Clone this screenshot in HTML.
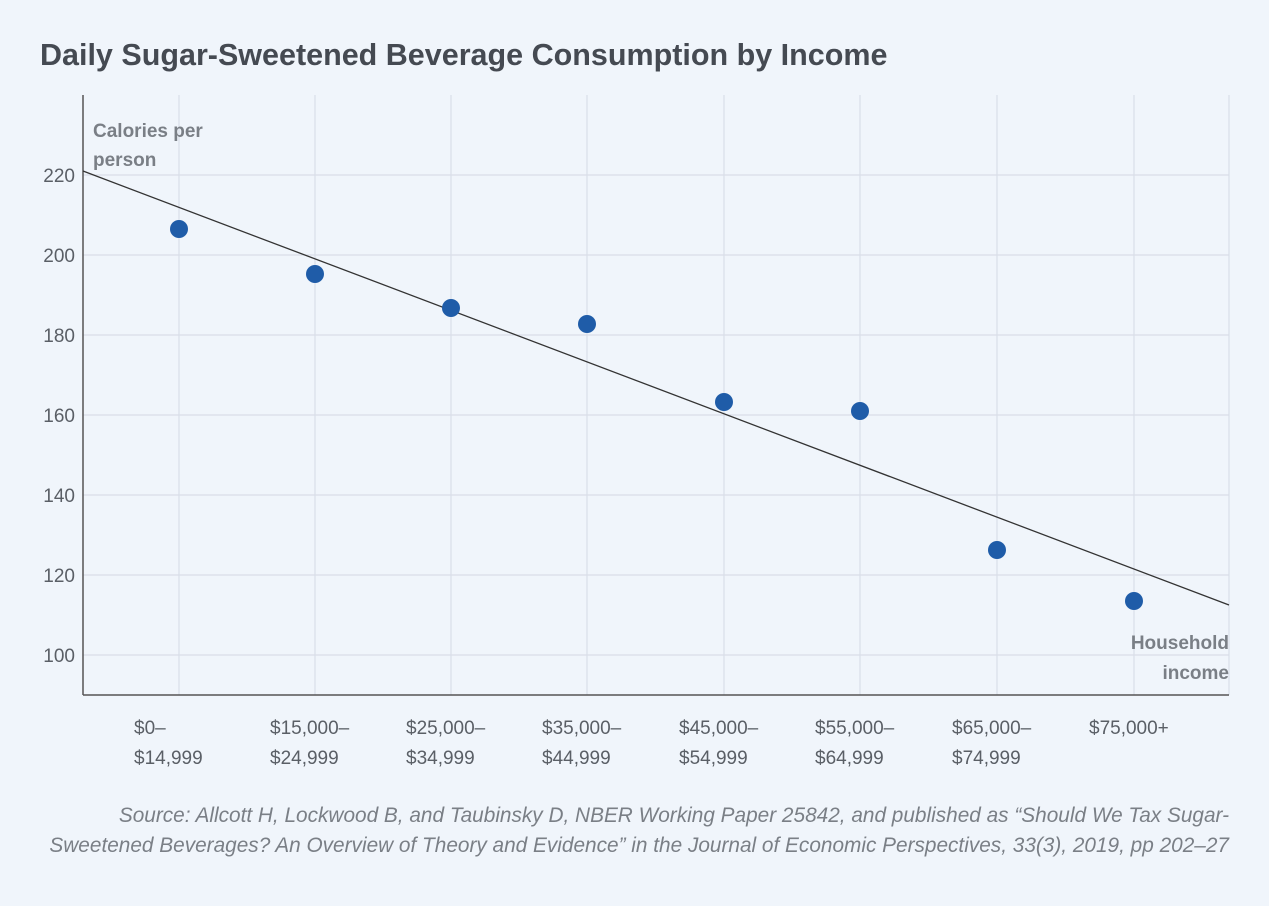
<!DOCTYPE html>
<html><head><meta charset="utf-8"><style>
body{margin:0;background:#f0f5fb;}
svg{display:block;font-family:"Liberation Sans",sans-serif;}
</style></head><body>
<svg width="1269" height="906" viewBox="0 0 1269 906">
<rect width="1269" height="906" fill="#f0f5fb"/>
<text x="40" y="65" font-size="30.5" font-weight="bold" fill="#454a52">Daily Sugar-Sweetened Beverage Consumption by Income</text>
<g stroke="#d9dee8" stroke-width="1.2">
<line x1="83" x2="1229" y1="175" y2="175"/><line x1="83" x2="1229" y1="255" y2="255"/>
<line x1="83" x2="1229" y1="335" y2="335"/><line x1="83" x2="1229" y1="415" y2="415"/>
<line x1="83" x2="1229" y1="495" y2="495"/><line x1="83" x2="1229" y1="575" y2="575"/>
<line x1="83" x2="1229" y1="655" y2="655"/>
<line x1="179" x2="179" y1="95" y2="695"/><line x1="315" x2="315" y1="95" y2="695"/>
<line x1="451" x2="451" y1="95" y2="695"/><line x1="587" x2="587" y1="95" y2="695"/>
<line x1="724" x2="724" y1="95" y2="695"/><line x1="860" x2="860" y1="95" y2="695"/>
<line x1="997" x2="997" y1="95" y2="695"/><line x1="1134" x2="1134" y1="95" y2="695"/>
<line x1="1229" x2="1229" y1="95" y2="695"/>
</g>
<line x1="83" y1="95" x2="83" y2="695" stroke="#555" stroke-width="1.5"/>
<line x1="83" y1="695" x2="1229" y2="695" stroke="#555" stroke-width="1.5"/>
<g font-size="19" fill="#5a5f66" text-anchor="end">
<text x="75" y="182">220</text><text x="75" y="262">200</text><text x="75" y="342">180</text>
<text x="75" y="422">160</text><text x="75" y="502">140</text><text x="75" y="582">120</text>
<text x="75" y="662">100</text>
</g>
<g font-size="19" font-weight="bold" fill="#7a7f86">
<text x="93" y="137">Calories per</text><text x="93" y="166">person</text>
<text x="1229" y="649" text-anchor="end">Household</text><text x="1229" y="679" text-anchor="end">income</text>
</g>
<line x1="83" y1="171" x2="1229" y2="605" stroke="#333" stroke-width="1.3"/>
<g fill="#1f5ca8">
<circle cx="179" cy="229" r="9"/><circle cx="315" cy="274" r="9"/><circle cx="451" cy="308" r="9"/>
<circle cx="587" cy="324" r="9"/><circle cx="724" cy="402" r="9"/><circle cx="860" cy="411" r="9"/>
<circle cx="997" cy="550" r="9"/><circle cx="1134" cy="601" r="9"/>
</g>
<g font-size="19" fill="#5a5f66">
<text x="134" y="734">$0–</text><text x="134" y="764">$14,999</text>
<text x="270" y="734">$15,000–</text><text x="270" y="764">$24,999</text>
<text x="406" y="734">$25,000–</text><text x="406" y="764">$34,999</text>
<text x="542" y="734">$35,000–</text><text x="542" y="764">$44,999</text>
<text x="679" y="734">$45,000–</text><text x="679" y="764">$54,999</text>
<text x="815" y="734">$55,000–</text><text x="815" y="764">$64,999</text>
<text x="952" y="734">$65,000–</text><text x="952" y="764">$74,999</text>
<text x="1089" y="734">$75,000+</text>
</g>
<g font-size="20.8" font-style="italic" fill="#7a7f86" text-anchor="end">
<text x="1229" y="822">Source: Allcott H, Lockwood B, and Taubinsky D, NBER Working Paper 25842, and published as “Should We Tax Sugar-</text>
<text x="1229" y="852">Sweetened Beverages? An Overview of Theory and Evidence” in the Journal of Economic Perspectives, 33(3), 2019, pp 202–27</text>
</g>
</svg>
</body></html>
